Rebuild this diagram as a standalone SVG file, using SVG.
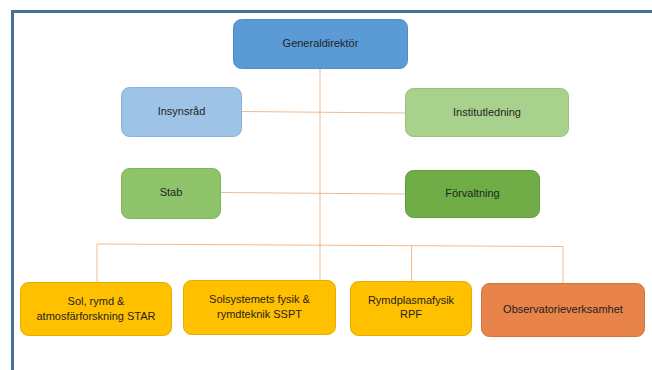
<svg xmlns="http://www.w3.org/2000/svg" width="652" height="370" viewBox="0 0 652 370">
<style>
.t{font-family:"Liberation Sans","Open Sans",Arial,sans-serif;font-size:11px;fill:#1f1f1f;text-anchor:middle;dominant-baseline:middle}
.c{stroke:#f2b98c;stroke-width:1;fill:none}
.b{stroke-width:1}
</style>
<rect x="0" y="0" width="652" height="370" fill="#ffffff"/>
<path d="M12.5 370 V11.5 H652" fill="none" stroke="#41719c" stroke-width="3"/>
<g id="connectors">
<line class="c" x1="320" y1="69" x2="320" y2="280"/>
<line class="c" x1="241" y1="111.5" x2="405" y2="113"/>
<line class="c" x1="220" y1="192.5" x2="405" y2="194"/>
<line class="c" x1="97" y1="244" x2="563" y2="246.5"/>
<line class="c" x1="97" y1="244" x2="97" y2="282"/>
<line class="c" x1="411.5" y1="245.8" x2="411.5" y2="281"/>
<line class="c" x1="563" y1="246.5" x2="563" y2="283"/>
</g>
<g id="generaldirektor">
<rect class="b" x="233.5" y="19.5" width="174" height="49" rx="8" fill="#5b9bd5" stroke="#4f8cc6"/>
<text class="t" x="320.5" y="44.5">Generaldirektör</text>
</g>
<g id="insynsrad">
<rect class="b" x="121.5" y="87.5" width="120" height="49" rx="8" fill="#9dc3e6" stroke="#8ab3da"/>
<text class="t" x="181.5" y="112.5">Insynsråd</text>
</g>
<g id="institutledning">
<rect class="b" x="405.5" y="88.5" width="163" height="48" rx="8" fill="#a9d18e" stroke="#98c27c"/>
<text class="t" x="487" y="113">Institutledning</text>
</g>
<g id="stab">
<rect class="b" x="121.5" y="168.5" width="99" height="50" rx="8" fill="#8fc36a" stroke="#7eb45a"/>
<text class="t" x="171" y="193.5">Stab</text>
</g>
<g id="forvaltning">
<rect class="b" x="405.5" y="170.5" width="134" height="47" rx="8" fill="#70ad47" stroke="#629c3c"/>
<text class="t" x="472.5" y="194">Förvaltning</text>
</g>
<g id="star">
<rect class="b" x="20.5" y="282.5" width="151" height="53" rx="8" fill="#ffc000" stroke="#e5ad00"/>
<text class="t" x="96" y="302.5">Sol, rymd &amp;</text>
<text class="t" x="96" y="317">atmosfärforskning STAR</text>
</g>
<g id="sspt">
<rect class="b" x="183.5" y="280.5" width="152" height="54" rx="8" fill="#ffc000" stroke="#e5ad00"/>
<text class="t" x="259.5" y="300.5">Solsystemets fysik &amp;</text>
<text class="t" x="259.5" y="315">rymdteknik SSPT</text>
</g>
<g id="rpf">
<rect class="b" x="350.5" y="281.5" width="121" height="54" rx="8" fill="#ffc000" stroke="#e5ad00"/>
<text class="t" x="411" y="301">Rymdplasmafysik</text>
<text class="t" x="411" y="315.5">RPF</text>
</g>
<g id="observatorieverksamhet">
<rect class="b" x="481.5" y="283.5" width="163" height="53" rx="8" fill="#e8834a" stroke="#d0733e"/>
<text class="t" x="563" y="310">Observatorieverksamhet</text>
</g>
</svg>
